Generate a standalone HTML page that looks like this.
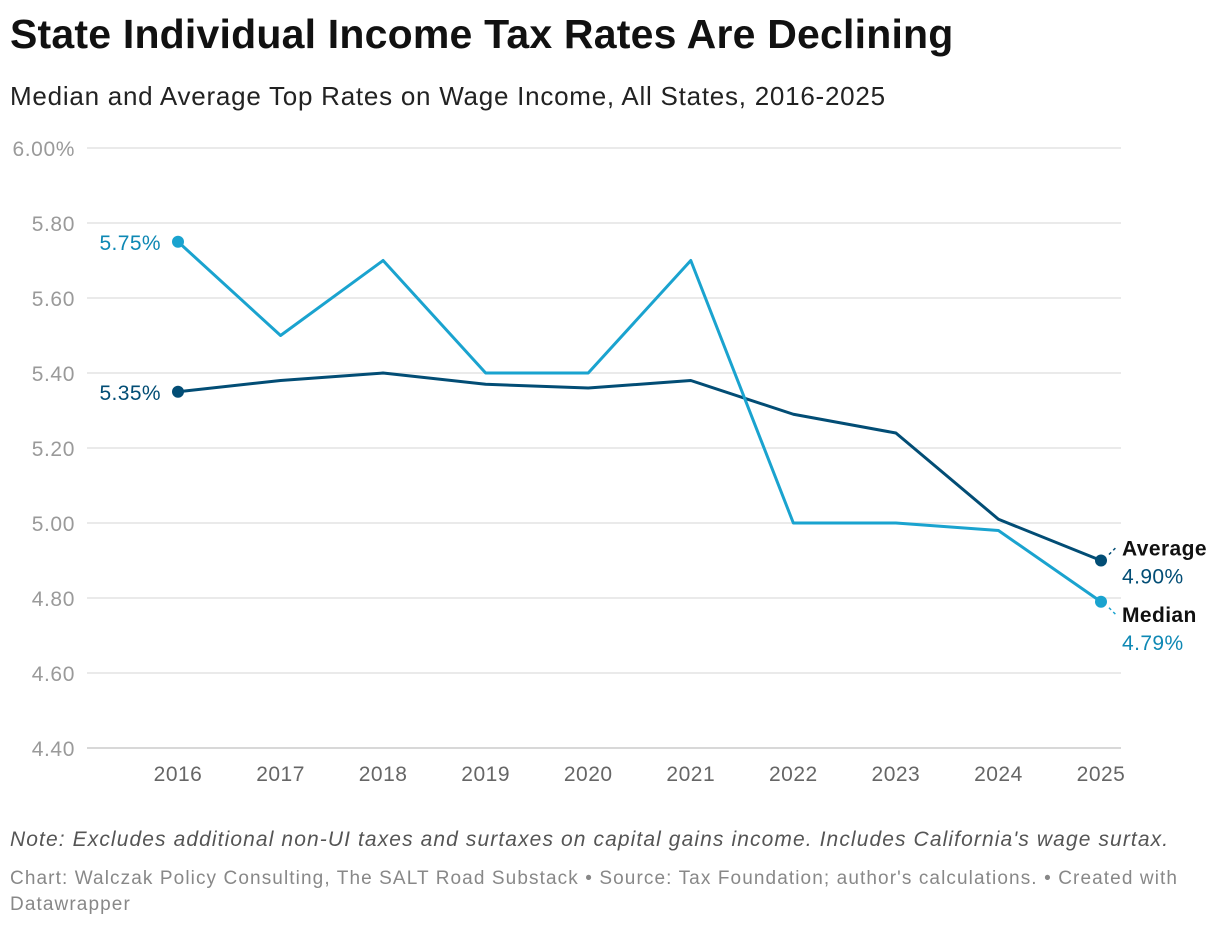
<!DOCTYPE html>
<html><head><meta charset="utf-8"><style>
body{margin:0;background:#fff;font-family:"Liberation Sans",sans-serif;}
#wrap{position:relative;width:1220px;height:928px;overflow:hidden}
h1{position:absolute;left:10px;top:11px;margin:0;font-size:41px;font-weight:bold;color:#111;letter-spacing:0.2px;white-space:nowrap}
.sub{position:absolute;left:10px;top:81px;font-size:26px;color:#222;letter-spacing:0.75px;white-space:nowrap}
.note{position:absolute;left:10px;top:828px;font-size:21px;font-style:italic;color:#555;letter-spacing:1.1px;white-space:nowrap}
.src{position:absolute;left:10px;top:866px;font-size:19px;color:#888;line-height:26px;width:1195px;letter-spacing:1.1px}
svg{position:absolute;left:0;top:0}
</style></head><body><div id="wrap">
<h1>State Individual Income Tax Rates Are Declining</h1>
<div class="sub">Median and Average Top Rates on Wage Income, All States, 2016-2025</div>
<svg id="plot" width="1220" height="928"></svg>
<div class="note">Note: Excludes additional non-UI taxes and surtaxes on capital gains income. Includes California's wage surtax.</div>
<div class="src">Chart: Walczak Policy Consulting, The SALT Road Substack • Source: Tax Foundation; author's calculations. • Created with Datawrapper</div>
</div>
<script>
const years=[2016,2017,2018,2019,2020,2021,2022,2023,2024,2025];
const median=[5.75,5.50,5.70,5.40,5.40,5.70,5.00,5.00,4.98,4.79];
const average=[5.35,5.38,5.40,5.37,5.36,5.38,5.29,5.24,5.01,4.90];
const yTicks=[6.00,5.80,5.60,5.40,5.20,5.00,4.80,4.60,4.40];
const NS='http://www.w3.org/2000/svg';
const svg=document.getElementById('plot');
const x=i=>178+i*(1101-178)/(years.length-1);
const y=v=>148+(6.0-v)*375;
function mk(t,a,p){const e=document.createElementNS(NS,t);for(const k in a)e.setAttribute(k,a[k]);(p||svg).appendChild(e);return e;}
yTicks.forEach((v,i)=>{
  const g=mk('line',{x1:87,x2:1121,y1:y(v),y2:y(v),stroke:i==yTicks.length-1?'#ccc':'#e3e3e3','stroke-width':1.5});
  
  
  const t=mk('text',{x:75,y:y(v)+8,'text-anchor':'end','font-size':21,fill:'#9a9a9a','letter-spacing':0.6,'font-family':'Liberation Sans, sans-serif'});
  t.textContent=v.toFixed(2)+(i==0?'%':'');
  
  
});
years.forEach((yr,i)=>{
  const t=mk('text',{x:x(i),y:781,'text-anchor':'middle','font-size':21,fill:'#666','letter-spacing':0.5,'font-family':'Liberation Sans, sans-serif'});
  t.textContent=yr;
  
  
});
function series(vals,color,name){
  const p=mk('polyline',{points:vals.map((v,i)=>x(i)+','+y(v)).join(' '),fill:'none',stroke:color,'stroke-width':3,'stroke-linejoin':'round'});
  
  
  [0,vals.length-1].forEach(i=>{
    const c=mk('circle',{cx:x(i),cy:y(vals[i]),r:6,fill:color});
    
    
  });
}
series(average,'#024d75','average');
series(median,'#1aa3cf','median');
function txt(s,xx,yy,col,w,anchor,name){
  const t=mk('text',{x:xx,y:yy,'font-size':21,fill:col,'font-weight':w,'text-anchor':anchor,'letter-spacing':0.4,'font-family':'Liberation Sans, sans-serif'});
  t.textContent=s;
  
  
}
txt(median[0].toFixed(2)+'%',161,y(median[0])+8,'#0e88b4','normal','end','median-start-label');
txt(average[0].toFixed(2)+'%',161,y(average[0])+8,'#024d75','normal','end','average-start-label');
const n=years.length-1;
mk('line',{x1:x(n)+8,y1:y(average[n])-6,x2:x(n)+16,y2:y(average[n])-14,stroke:'#024d75','stroke-width':1.5,'stroke-dasharray':'3,3'});
mk('line',{x1:x(n)+8,y1:y(median[n])+6,x2:x(n)+16,y2:y(median[n])+14,stroke:'#1aa3cf','stroke-width':1.5,'stroke-dasharray':'3,3'});
txt('Average',1122,y(average[n])-5,'#111','bold','start','average-series-label');
txt(average[n].toFixed(2)+'%',1122,y(average[n])+23,'#024d75','normal','start','average-end-label');
txt('Median',1122,y(median[n])+20,'#111','bold','start','median-series-label');
txt(median[n].toFixed(2)+'%',1122,y(median[n])+48,'#0e88b4','normal','start','median-end-label');
</script></body></html>
